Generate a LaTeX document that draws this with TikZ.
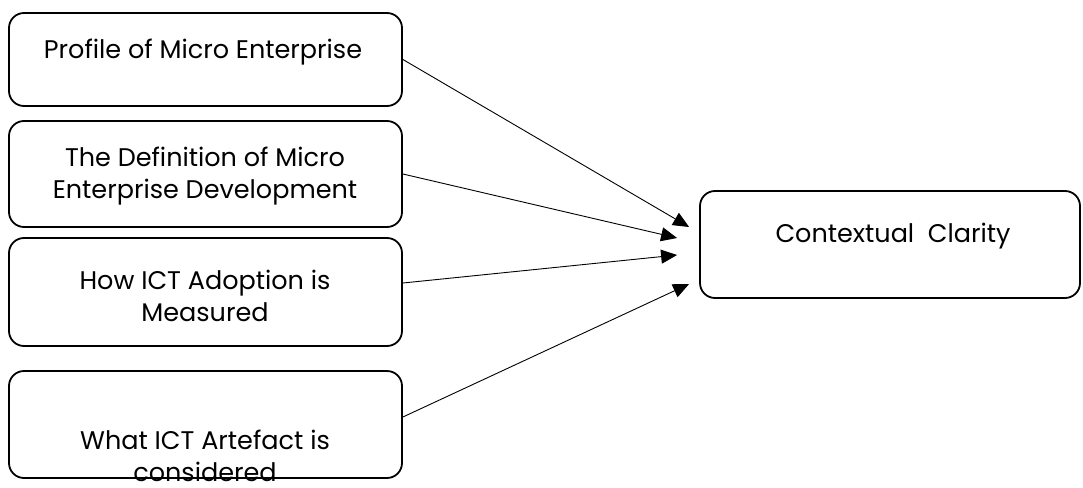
\documentclass[tikz,border=0pt]{standalone}
\usepackage{fontspec}
\setmainfont{Poppins}
\usetikzlibrary{arrows.meta,calc}
\begin{document}
\begin{tikzpicture}[x=1pt,y=-1pt,
  boxs/.style={draw,line width=1.8pt,rounded corners=15pt,inner sep=0pt,minimum width=393pt},
  lbl/.style={align=center,inner sep=0pt,font=\fontsize{25.5}{32}\selectfont},
  conn/.style={line width=0.9pt,-{Triangle[length=16pt,width=14pt]}}]
\useasboundingbox (0,0) rectangle (1083,487);
\node[boxs,minimum height=93pt] (b1) at (205.5,59.5) {};
\node[boxs,minimum height=106pt] (b2) at (205.5,174) {};
\node[boxs,minimum height=108pt] (b3) at (205.5,292) {};
\node[boxs,minimum height=107pt] (b4) at (205.5,424.5) {};
\node[boxs,minimum width=380pt,minimum height=107pt] (r) at (890,244.5) {};
\node[lbl] (l1) at (203,52) {Profile of Micro Enterprise};
\node[lbl] (l2) at (205,176) {The Definition of Micro\\Enterprise Development};
\node[lbl] (l3) at (205,296) {How ICT Adoption is\\Measured};
\node[lbl] (l4) at (205,456) {What ICT Artefact is\\considered};
\node[lbl] (lr) at (893,236) {Contextual\ \ Clarity};
\coordinate (t1) at ($(r.west)+(-10,-17.5)$);
\coordinate (t2) at ($(r.west)+(-22,-6.5)$);
\coordinate (t3) at ($(r.west)+(-22,10.5)$);
\coordinate (t4) at ($(r.west)+(-10,39.5)$);
\draw[conn] (b1.east) -- (t1);
\draw[conn] (b2.east) -- (t2);
\draw[conn] ($(b3.east)+(0,-9)$) -- (t3);
\draw[conn] ($(b4.east)+(0,-7.5)$) -- (t4);
\end{tikzpicture}
\end{document}
